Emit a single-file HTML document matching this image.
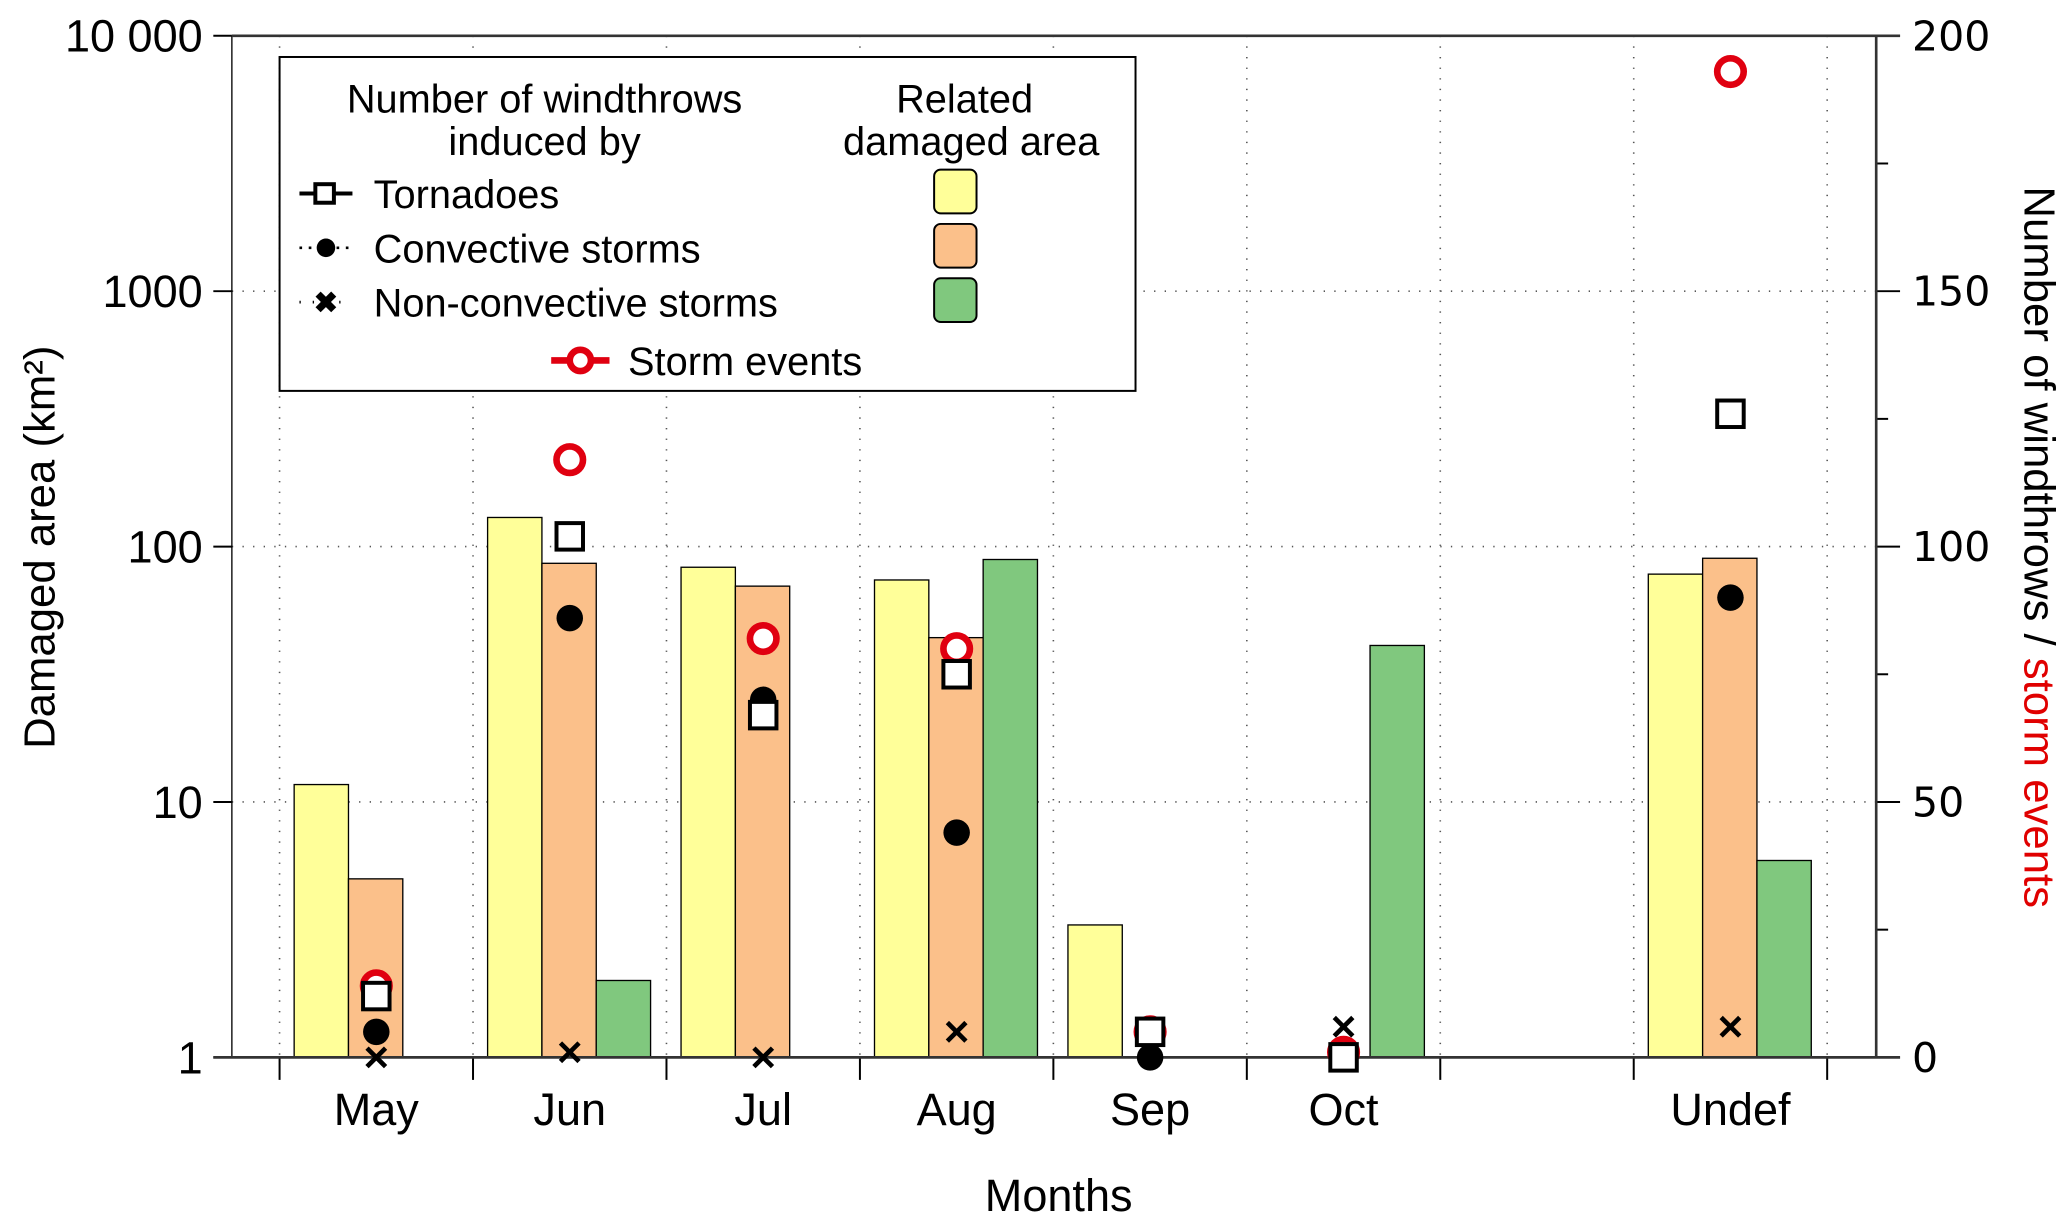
<!DOCTYPE html>
<html><head><meta charset="utf-8"><style>
html,body{margin:0;padding:0;background:#fff;}
svg{display:block;font-family:"Liberation Sans Narrow","Liberation Sans",sans-serif;}
</style></head><body>
<svg id="chart" width="2067" height="1223" viewBox="0 0 1560 923" xmlns="http://www.w3.org/2000/svg">
<g id="grid"></g>
<g id="bars"></g>
<g id="axes"></g>
<g id="marks"></g>
<text transform="translate(41,413) rotate(-90)" text-anchor="middle" font-size="33">Damaged area (km²)</text>
<text transform="translate(1528,413) rotate(90)" text-anchor="middle" font-size="33">Number of windthrows / <tspan fill="#e00000">storm events</tspan></text>
<text x="799" y="914" text-anchor="middle" font-size="34">Months</text>
<g>
<rect x="211" y="43" width="646" height="252" fill="#fff" stroke="#000" stroke-width="1.5"/>
<text x="411" y="85" text-anchor="middle" font-size="30">Number of windthrows</text>
<text x="411" y="117" text-anchor="middle" font-size="30">induced by</text>
<text x="728" y="85" text-anchor="middle" font-size="30">Related</text>
<text x="733" y="117" text-anchor="middle" font-size="30">damaged area</text>
<g>
<line x1="226" y1="146" x2="266" y2="146" stroke="#000" stroke-width="3"/><rect x="238" y="139" width="14" height="14" fill="#fff" stroke="#000" stroke-width="3"/>
<text x="282" y="157" font-size="30">Tornadoes</text>
<rect x="705" y="128" width="32" height="33" rx="5" fill="#ffff99" stroke="#000" stroke-width="1.5"/></g>
<g>
<line x1="226" y1="187" x2="266" y2="187" stroke="#000" stroke-width="2" stroke-dasharray="2,5"/><circle cx="246" cy="187" r="7" fill="#000"/>
<text x="282" y="198" font-size="30">Convective storms</text>
<rect x="705" y="169" width="32" height="33" rx="5" fill="#fbc08a" stroke="#000" stroke-width="1.5"/></g>
<g>
<line x1="226" y1="228" x2="266" y2="228" stroke="#000" stroke-width="2" stroke-dasharray="1,9"/><text x="246" y="236" text-anchor="middle" font-size="22" font-weight="bold">✖</text>
<text x="282" y="239" font-size="30">Non-convective storms</text>
<rect x="705" y="210" width="32" height="33" rx="5" fill="#80c87e" stroke="#000" stroke-width="1.5"/></g>
<g>
<line x1="416" y1="272" x2="460" y2="272" stroke="#e00010" stroke-width="5"/><circle cx="438" cy="272" r="8" fill="#fff" stroke="#e00010" stroke-width="5"/>
<text x="474" y="283" font-size="30">Storm events</text></g>
</g>
</svg>
<script>
const categories=["May","Jun","Jul","Aug","Sep","Oct","","Undef"];
const areaTornado=[11.7,130,83,74,3.3,null,null,78];
const areaConvective=[5,86,70,44,null,null,null,90];
const areaNonConvective=[null,2,null,89,null,41,null,5.9];
const countTornado=[12,102,67,75,5,0,null,126];
const countConvective=[5,86,70,44,0,0,null,90];
const countNonConvective=[0,1,0,5,null,6,null,6];
const countStormEvents=[14,117,82,80,5,1,null,193];
const leftTicks=[1,10,100,1000,10000];
const leftTickLabels=["1","10","100","1000","10 000"];
const rightTicks=[0,50,100,150,200];

const NS="http://www.w3.org/2000/svg";
const L=175,R=1416,T=27,B=798,X0=211,STEP=146;
function yLog(v){return B-(Math.log10(v))*(B-T)/4;}
function yCnt(v){return B-v*(B-T)/200;}
function xC(i){return X0+STEP*(i+0.5);}
function mk(tag,attrs,parent){const e=document.createElementNS(NS,tag);for(const k in attrs)e.setAttribute(k,attrs[k]);parent.appendChild(e);return e;}
const grid=document.getElementById('grid'),bars=document.getElementById('bars'),axes=document.getElementById('axes'),marks=document.getElementById('marks');

for(let i=0;i<=categories.length;i++){const x=X0+STEP*i;
 const g=mk('line',{x1:x,y1:T,x2:x,y2:B,stroke:'#555','stroke-width':1.2,'stroke-dasharray':'1,7'},grid);
 
 
 const t=mk('line',{x1:x,y1:B,x2:x,y2:B+17,stroke:'#000','stroke-width':1.5},axes);
 
 }
leftTicks.forEach((v,i)=>{const y=yLog(v);
 if(i>0&&i<leftTicks.length-1){const g=mk('line',{x1:L,y1:y,x2:R,y2:y,stroke:'#555','stroke-width':1.2,'stroke-dasharray':'1,7'},grid);
 
 }
 mk('line',{x1:L-14,y1:y,x2:L,y2:y,stroke:'#000','stroke-width':1.5},axes);
 const t=mk('text',{x:L-22,y:y+12,'text-anchor':'end','font-size':34},axes);t.textContent=leftTickLabels[i];
 
 });
for(let v=0;v<=200;v+=25){const y=yCnt(v);mk('line',{x1:R,y1:y,x2:R+(v%50==0?18:9),y2:y,stroke:'#000','stroke-width':1.5},axes);}
rightTicks.forEach(v=>{const t=mk('text',{x:R+27,y:yCnt(v)+11,'font-size':31,'font-family':'"DejaVu Sans",sans-serif'},axes);t.textContent=v;
 
 });
mk('line',{x1:L,y1:T,x2:L,y2:B,stroke:'#000','stroke-width':1},axes);
mk('line',{x1:R,y1:T,x2:R,y2:B,stroke:'#333','stroke-width':2},axes);
mk('line',{x1:L,y1:T,x2:R+18,y2:T,stroke:'#333','stroke-width':2},axes);
mk('line',{x1:L-14,y1:B,x2:R+18,y2:B,stroke:'#333','stroke-width':2},axes);
categories.forEach((c,i)=>{if(!c)return;const t=mk('text',{x:xC(i),y:849,'text-anchor':'middle','font-size':34},axes);t.textContent=c;
 
 });

const series=[[areaTornado,'#ffff99',-62,'bar-tornado'],[areaConvective,'#fbc08a',-21,'bar-convective'],[areaNonConvective,'#80c87e',20,'bar-nonconvective']];
series.forEach(([arr,col,off,name])=>arr.forEach((v,i)=>{if(v==null)return;const y=yLog(v);
 const r=mk('rect',{x:xC(i)+off,y:y,width:41,height:B-y,fill:col,stroke:'#000','stroke-width':1},bars);
 
 }));

countStormEvents.forEach((v,i)=>{if(v==null)return;const c=mk('circle',{cx:xC(i),cy:yCnt(v),r:10,fill:'#fff',stroke:'#e00010','stroke-width':5},marks);
 
 });
countConvective.forEach((v,i)=>{if(v==null)return;const c=mk('circle',{cx:xC(i),cy:yCnt(v),r:10,fill:'#000'},marks);
 
 });
countTornado.forEach((v,i)=>{if(v==null)return;const c=mk('rect',{x:xC(i)-10,y:yCnt(v)-10,width:20,height:20,fill:'#fff',stroke:'#000','stroke-width':3},marks);
 
 });
countNonConvective.forEach((v,i)=>{if(v==null)return;const x=xC(i),y=yCnt(v);
 const p=mk('path',{d:`M${x-7} ${y-7}L${x+7} ${y+7}M${x+7} ${y-7}L${x-7} ${y+7}`,stroke:'#000','stroke-width':3.5},marks);
 
 });
</script>
</body></html>
